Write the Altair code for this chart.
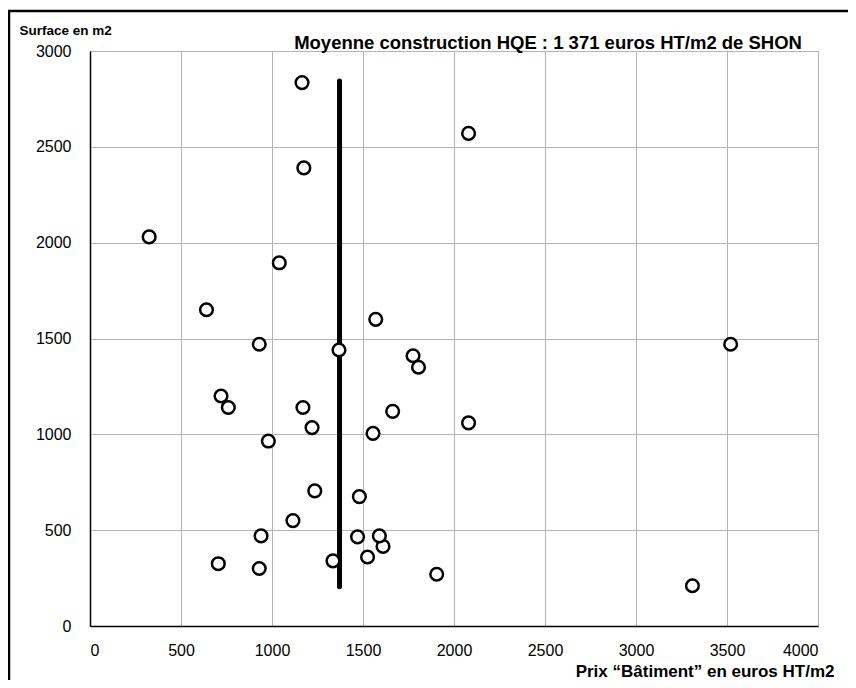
import altair as alt
import pandas as pd

# Data
prix = [1165, 2080, 1175, 325, 1040, 640, 1570, 930, 1368, 1775, 1805, 3520, 3310,
        760, 720, 1170, 1220, 980, 1663, 1555, 1235, 1480, 1115, 940, 1470, 1610,
        1590, 1525, 1335, 705, 930, 1905, 2080]
surface = [2835, 2570, 2390, 2030, 1895, 1650, 1600, 1470, 1440, 1410, 1350, 1470, 210,
           1140, 1200, 1140, 1035, 965, 1120, 1005, 705, 675, 550, 470, 465, 415,
           470, 360, 340, 325, 300, 270, 1060]

moyenne = [1371]
ligne_bas = [205]
ligne_haut = [2843]

x_ticks = [0, 500, 1000, 1500, 2000, 2500, 3000, 3500, 4000]
y_ticks = [0, 500, 1000, 1500, 2000, 2500, 3000]

titre = "Moyenne construction HQE : 1 371 euros HT/m2 de SHON"
titre_x = "Prix \u201cB\u00e2timent\u201d en euros HT/m2"
titre_y = "Surface en m2"

FONT = "Liberation Sans"

df = pd.DataFrame({"prix": prix, "surface": surface})
ligne = pd.DataFrame({"x": moyenne, "y": ligne_bas, "y2": ligne_haut})
one = pd.DataFrame({"a": [0]})

xscale = alt.Scale(domain=[0, 4000], nice=False, zero=False)
yscale = alt.Scale(domain=[0, 3000], nice=False, zero=False)

xaxis = alt.Axis(
    values=x_ticks, format="d", ticks=False, tickSize=0, labelPadding=16,
    grid=True, gridColor="#b4b4b4", gridWidth=1,
    domainColor="black", domainWidth=1.5,
    labelFont=FONT, labelFontSize=16, labelColor="black",
    title=titre_x, titleFont=FONT, titleFontSize=17, titleFontWeight="bold",
    titleColor="black", titleAngle=0, titleAlign="right", titleBaseline="alphabetic",
    titleX=744, titleY=50.5,
)
yaxis = alt.Axis(
    values=y_ticks, format="d", ticks=False, tickSize=0, labelPadding=19,
    grid=True, gridColor="#b4b4b4", gridWidth=1,
    domainColor="black", domainWidth=1.5,
    labelFont=FONT, labelFontSize=16, labelColor="black",
    title=titre_y, titleFont=FONT, titleFontSize=13.5, titleFontWeight="bold",
    titleColor="black", titleAngle=0, titleAlign="left", titleBaseline="alphabetic",
    titleX=-71, titleY=-17,
)

frame = alt.Chart(one).mark_rect(
    fillOpacity=0, stroke="black", strokeWidth=2.5
).encode(
    x=alt.value(-81), x2=alt.value(820), y=alt.value(-40), y2=alt.value(720)
)

rule = alt.Chart(ligne).mark_rule(
    color="black", strokeWidth=5, strokeCap="round"
).encode(
    x=alt.X("x:Q", scale=xscale, axis=xaxis),
    y=alt.Y("y:Q", scale=yscale, axis=yaxis),
    y2="y2:Q",
)

points = alt.Chart(df).mark_point(
    shape="circle", filled=False, fill="white", fillOpacity=1,
    stroke="black", strokeWidth=2.5, size=160, opacity=1
).encode(
    x=alt.X("prix:Q", scale=xscale, axis=xaxis),
    y=alt.Y("surface:Q", scale=yscale, axis=yaxis),
)

title_text = alt.Chart(one).mark_text(
    text=titre, font=FONT, fontSize=18.5, fontWeight="bold", color="black",
    align="right", baseline="alphabetic"
).encode(x=alt.value(712), y=alt.value(-2.5))

chart = alt.layer(frame, rule, points, title_text).properties(
    width=728, height=575,
    autosize=alt.AutoSizeParams(type="none"),
    padding={"left": 82, "top": 43, "right": 30, "bottom": 54},
).configure_view(strokeWidth=0).configure(background="white")

chart.save("out.html", embed_options={"renderer": "svg", "actions": False})
